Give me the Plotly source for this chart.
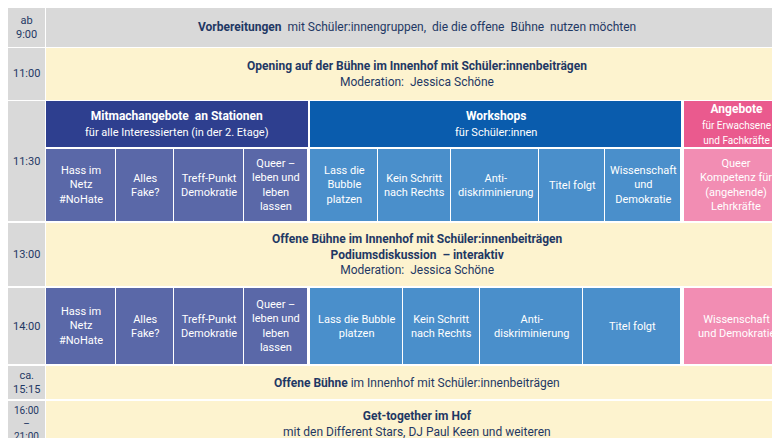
import plotly.graph_objects as go

W, H = 780, 438
times = ["ab<br>9:00", "11:00", "11:30", "13:00", "14:00", "ca.<br>15:15", "16:00<br>–<br>21:00"]
time_rows = [(0, 39), (40, 92), (93, 213), (215, 278), (280, 356), (358, 391), (393, 438)]

banners = [
    ((0, 39), "#d9d9d9", "<b>Vorbereitungen</b>  mit Schüler:innengruppen,  die die offene  Bühne  nutzen möchten"),
    ((40, 92), "#fdf3cf", "<b>Opening auf der Bühne im Innenhof mit Schüler:innenbeiträgen</b><br>Moderation:  Jessica Schöne"),
    ((215, 278), "#fdf3cf", "<b>Offene Bühne im Innenhof mit Schüler:innenbeiträgen</b><br><b>Podiumsdiskussion  – interaktiv</b><br>Moderation:  Jessica Schöne"),
    ((358, 391), "#fdf3cf", "<b>Offene Bühne</b> im Innenhof mit Schüler:innenbeiträgen"),
    ((393, 438), "#fdf3cf", "<b>Get-together im Hof</b><br>mit den Different Stars, DJ Paul Keen und weiteren"),
]

headers = [
    ((38, 300), "#2e3f8f", "<b>Mitmachangebote  an Stationen</b><br><span style='font-size:11px'>für alle Interessierten (in der 2. Etage)</span>"),
    ((302, 673), "#0a5cad", "<b>Workshops</b><br><span style='font-size:11px'>für Schüler:innen</span>"),
    ((676, 780), "#ea5a8e", "<b>Angebote</b><br><span style='font-size:10px'>für Erwachsene<br>und Fachkräfte</span>"),
]

row4_edges = [38, 108, 166, 236, 300, 302, 370, 443, 531, 597, 673, 676, 780]
row4_labels = ["Hass im<br>Netz<br>#NoHate", "Alles<br>Fake?", "Treff-Punkt<br>Demokratie", "Queer –<br>leben und<br>leben<br>lassen",
               None, "Lass die<br>Bubble<br>platzen", "Kein Schritt<br>nach Rechts", "Anti-<br>diskriminierung", "Titel folgt",
               "Wissenschaft<br>und<br>Demokratie", None, "Queer<br>Kompetenz für<br>(angehende)<br>Lehrkräfte"]
row6_edges = [38, 108, 166, 236, 300, 302, 395, 472, 575, 673, 676, 780]
row6_labels = ["Hass im<br>Netz<br>#NoHate", "Alles<br>Fake?", "Treff-Punkt<br>Demokratie", "Queer –<br>leben und<br>leben<br>lassen",
               None, "Lass die Bubble<br>platzen", "Kein Schritt<br>nach Rechts", "Anti-<br>diskriminierung", "Titel folgt",
               None, "Wissenschaft<br>und Demokratie"]

def cell_color(x0):
    if x0 < 301: return "#5a68a8"
    if x0 < 674: return "#4a8fcb"
    return "#f28db3"

FONT = "Liberation Sans Narrow, Roboto, sans-serif"
shapes, ann = [], []
def rect(x0, x1, y0, y1, c):
    shapes.append(dict(type="rect", xref="paper", yref="paper", x0=x0 / W, x1=x1 / W,
                       y0=1 - y1 / H, y1=1 - y0 / H, fillcolor=c, line=dict(width=0), layer="below"))
def text(x, y, t, color, size=12):
    ann.append(dict(xref="paper", yref="paper", x=x / W, y=1 - y / H, text=t, showarrow=False,
                    xanchor="center", yanchor="middle",
                    font=dict(family=FONT, size=size, color=color), align="center"))

for t, (y0, y1) in zip(times, time_rows):
    rect(0, 37, y0, y1, "#d9d9d9")
    text(18.5, (y0 + y1) / 2, t, "#1f3864", 10 if "21" in t else 11)
for (y0, y1), c, t in banners:
    rect(38, 780, y0, y1, c)
    text(409, (y0 + y1) / 2, t, "#1f3864", 12)
for (x0, x1), c, t in headers:
    rect(x0, x1, 93, 139, c)
    text((x0 + x1) / 2, 116, t, "white", 12)
for edges, labels, (y0, y1) in [(row4_edges, row4_labels, (141, 213)), (row6_edges, row6_labels, (280, 356))]:
    for i, lab in enumerate(labels):
        if lab is None: continue
        x0, x1 = edges[i], edges[i + 1]
        rect(x0, x1 - 1, y0, y1, cell_color(x0))
        text((x0 + x1) / 2, (y0 + y1) / 2, lab, "white", 11)

fig = go.Figure()
fig.update_layout(width=W, height=H, autosize=False, margin=dict(l=0, r=0, t=0, b=0, pad=0),
                  paper_bgcolor="white", plot_bgcolor="white", shapes=shapes, annotations=ann,
                  xaxis=dict(visible=False, fixedrange=True),
                  yaxis=dict(visible=False, fixedrange=True), showlegend=False)
fig.write_html("out.html")
